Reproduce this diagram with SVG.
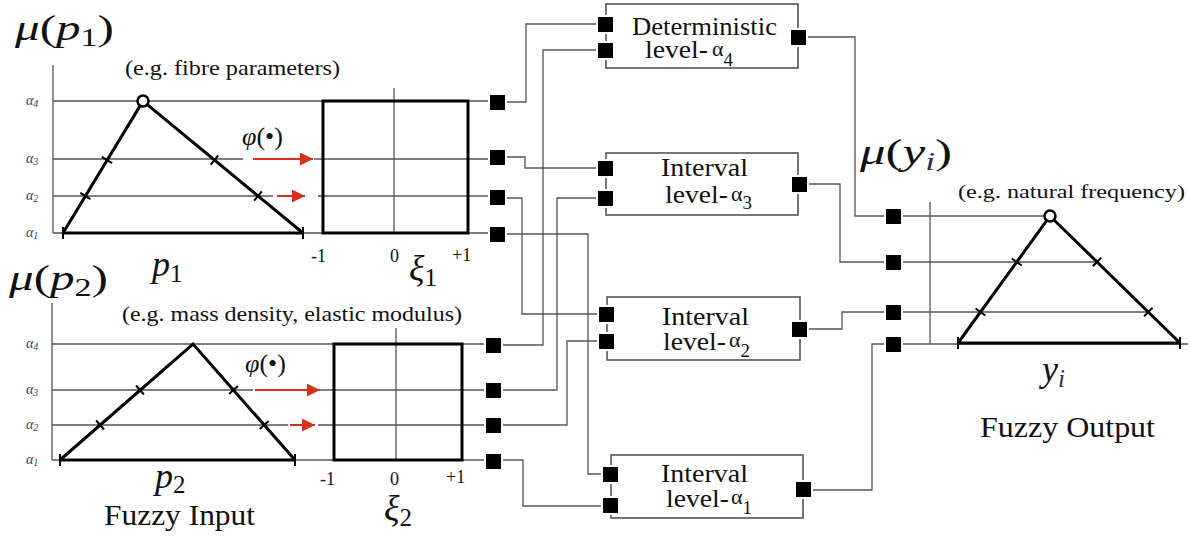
<svg xmlns="http://www.w3.org/2000/svg" width="1190" height="536" viewBox="0 0 1190 536">
<defs>
<marker id="ra" viewBox="0 0 10 10" refX="10" refY="5" markerUnits="userSpaceOnUse" markerWidth="13" markerHeight="13" orient="auto"><path d="M0,0 L10,5 L0,10 z" fill="#d3321e"/></marker>
</defs>
<style>
.g{stroke:#555;stroke-width:1.3;fill:none}
.k{stroke:#000;stroke-width:3;fill:none}
.tk{stroke:#000;stroke-width:2}
.r{stroke:#d3321e;stroke-width:2;marker-end:url(#ra)}
.sq{fill:#000;stroke:#fff;stroke-width:4;paint-order:stroke}
.box{fill:none;stroke:#555;stroke-width:1.6}
.c{fill:#fff;stroke:#000;stroke-width:2.5}
text{font-family:"Liberation Serif",serif;fill:#111}
.al{font-size:14px;fill:#3c3c5a;font-style:italic}
.big{font-size:36px}
.it{font-style:italic}
.eg{font-size:21px}
.ax{font-size:18px}
.ml{font-size:25px}
.gr{font-size:22px}
.fz{font-size:30px}
</style>

<g id="input-p1">
<line class="g" x1="53" y1="65" x2="53" y2="233"/>
<line class="g" x1="53" y1="101" x2="490" y2="101"/>
<line class="g" x1="53" y1="159" x2="243" y2="159"/>
<line class="g" x1="314" y1="159" x2="490" y2="159"/>
<line class="g" x1="53" y1="196" x2="273" y2="196"/>
<line class="g" x1="318" y1="196" x2="490" y2="196"/>
<line class="g" x1="53" y1="233" x2="490" y2="233"/>
<text class="al" x="26" y="105">α<tspan font-size="10" dy="2">4</tspan></text>
<text class="al" x="26" y="163">α<tspan font-size="10" dy="2">3</tspan></text>
<text class="al" x="26" y="200">α<tspan font-size="10" dy="2">2</tspan></text>
<text class="al" x="26" y="237">α<tspan font-size="10" dy="2">1</tspan></text>
<line class="k" x1="63" y1="233" x2="303" y2="233"/>
<line class="k" x1="63" y1="233" x2="139.9" y2="106.1"/>
<line class="k" x1="147.6" y1="104.8" x2="303" y2="233"/>
<circle class="c" cx="143" cy="101" r="5.5"/>
<line class="tk" x1="101.9" y1="156.9" x2="112.1" y2="163.1"/>
<line class="tk" x1="80.3" y1="192.9" x2="90.5" y2="199.1"/>
<line class="tk" x1="218.3" y1="155.4" x2="210.7" y2="164.6"/>
<line class="tk" x1="261.8" y1="191.4" x2="254.2" y2="200.6"/>
<line class="tk" x1="63" y1="227" x2="63" y2="239"/>
<line class="tk" x1="303" y1="227" x2="303" y2="239"/>
<line class="r" x1="253" y1="159" x2="313" y2="159"/>
<line class="r" x1="277" y1="196" x2="305" y2="196"/>
<line class="g" x1="394" y1="88" x2="394" y2="233"/>
<rect class="k" x="323" y="101" width="145" height="132"/>
<text class="big" x="15" y="40" textLength="99" lengthAdjust="spacingAndGlyphs"><tspan class="it">μ</tspan>(<tspan class="it">p</tspan><tspan font-size="25" dy="6">1</tspan><tspan dy="-6">)</tspan></text>
<text class="eg" x="125" y="75" textLength="215" lengthAdjust="spacingAndGlyphs">(e.g. fibre parameters)</text>
<text x="242" y="145" font-size="26"><tspan class="it">φ</tspan>(•)</text>
<text class="big it" x="152" y="276">p<tspan font-size="25" dy="6" font-style="normal">1</tspan></text>
<text class="ax" x="311" y="262">-1</text>
<text class="ax" x="390" y="262">0</text>
<text class="ax" x="452" y="261">+1</text>
<text class="big it" x="409" y="280">ξ<tspan font-size="25" dy="6" font-style="normal">1</tspan></text>
</g>

<g id="input-p2">
<line class="g" x1="52" y1="303" x2="52" y2="460"/>
<line class="g" x1="52" y1="344" x2="486" y2="344"/>
<line class="g" x1="52" y1="390" x2="253" y2="390"/>
<line class="g" x1="320" y1="390" x2="486" y2="390"/>
<line class="g" x1="52" y1="425" x2="288" y2="425"/>
<line class="g" x1="318" y1="425" x2="486" y2="425"/>
<line class="g" x1="52" y1="460" x2="486" y2="460"/>
<text class="al" x="26" y="348">α<tspan font-size="10" dy="2">4</tspan></text>
<text class="al" x="26" y="394">α<tspan font-size="10" dy="2">3</tspan></text>
<text class="al" x="26" y="429">α<tspan font-size="10" dy="2">2</tspan></text>
<text class="al" x="26" y="464">α<tspan font-size="10" dy="2">1</tspan></text>
<line class="k" x1="60" y1="460" x2="295" y2="460"/>
<polyline class="k" points="60,460 193,344 295,460"/>
<line class="tk" x1="136.1" y1="385.5" x2="143.9" y2="394.5"/>
<line class="tk" x1="96.2" y1="420.5" x2="104" y2="429.5"/>
<line class="tk" x1="238" y1="386" x2="229" y2="394"/>
<line class="tk" x1="268.7" y1="421" x2="259.7" y2="429"/>
<line class="tk" x1="60" y1="454" x2="60" y2="466"/>
<line class="tk" x1="295" y1="454" x2="295" y2="466"/>
<line class="r" x1="255" y1="390" x2="320" y2="390"/>
<line class="r" x1="290" y1="425" x2="315" y2="425"/>
<line class="g" x1="396" y1="328" x2="396" y2="460"/>
<rect class="k" x="334" y="344" width="128" height="116"/>
<text class="big" x="9" y="290" textLength="99" lengthAdjust="spacingAndGlyphs"><tspan class="it">μ</tspan>(<tspan class="it">p</tspan><tspan font-size="25" dy="6">2</tspan><tspan dy="-6">)</tspan></text>
<text class="eg" x="122" y="321" textLength="340" lengthAdjust="spacingAndGlyphs">(e.g. mass density, elastic modulus)</text>
<text x="245" y="372" font-size="26"><tspan class="it">φ</tspan>(•)</text>
<text class="big it" x="155" y="488">p<tspan font-size="25" dy="5" font-style="normal">2</tspan></text>
<text class="fz" x="104" y="525" textLength="151" lengthAdjust="spacingAndGlyphs">Fuzzy Input</text>
<text class="ax" x="320" y="485">-1</text>
<text class="ax" x="390" y="485">0</text>
<text class="ax" x="446" y="483">+1</text>
<text class="big it" x="384" y="520">ξ<tspan font-size="25" dy="6" font-style="normal">2</tspan></text>
</g>

<g id="connectors" class="g">
<polyline points="506,102 526,102 526,24 598,24"/>
<polyline points="502,345 543,345 543,50 598,50"/>
<polyline points="506,157 525,157 525,168 598,168"/>
<polyline points="502,390 557,390 557,198 598,198"/>
<polyline points="506,198 522,198 522,314 599,314"/>
<polyline points="502,425 567,425 567,341 599,341"/>
<polyline points="506,234 588,234 588,474 603,474"/>
<polyline points="502,460 523,460 523,506 603,506"/>
<polyline points="806,37 855,37 855,216 885,216"/>
<polyline points="807,184 840,184 840,262 885,262"/>
<polyline points="807,329 842,329 842,312 885,312"/>
<polyline points="811,490 872,490 872,344 885,344"/>
</g>

<g id="ports-in">
<rect class="sq" x="490" y="95" width="15" height="15"/>
<rect class="sq" x="490" y="150" width="15" height="15"/>
<rect class="sq" x="490" y="190" width="15" height="15"/>
<rect class="sq" x="490" y="227" width="15" height="15"/>
<rect class="sq" x="486" y="338" width="15" height="15"/>
<rect class="sq" x="486" y="383" width="15" height="15"/>
<rect class="sq" x="486" y="418" width="15" height="15"/>
<rect class="sq" x="486" y="454" width="15" height="15"/>
</g>

<g id="det-a4">
<rect class="box" x="606" y="4" width="192" height="64"/>
<rect class="sq" x="598" y="17" width="15" height="15"/>
<rect class="sq" x="598" y="43" width="15" height="15"/>
<rect class="sq" x="791" y="30" width="15" height="15"/>
<text class="ml" x="632" y="35" textLength="145" lengthAdjust="spacingAndGlyphs">Deterministic</text>
<text class="ml" x="645" y="58" textLength="63" lengthAdjust="spacingAndGlyphs">level-</text>
<text class="gr" x="712" y="56">α<tspan dy="10" font-size="19">4</tspan></text>
</g>

<g id="int-a3">
<rect class="box" x="606" y="153" width="192" height="62"/>
<rect class="sq" x="598" y="161" width="15" height="15"/>
<rect class="sq" x="598" y="191" width="15" height="15"/>
<rect class="sq" x="792" y="177" width="15" height="15"/>
<text class="ml" x="661" y="176" textLength="87" lengthAdjust="spacingAndGlyphs">Interval</text>
<text class="ml" x="665" y="203" textLength="63" lengthAdjust="spacingAndGlyphs">level-</text>
<text class="gr" x="731" y="201">α<tspan dy="8" font-size="19">3</tspan></text>
</g>

<g id="int-a2">
<rect class="box" x="607" y="297" width="193" height="63"/>
<rect class="sq" x="599" y="307" width="15" height="15"/>
<rect class="sq" x="599" y="334" width="15" height="15"/>
<rect class="sq" x="792" y="322" width="15" height="15"/>
<text class="ml" x="662" y="325" textLength="87" lengthAdjust="spacingAndGlyphs">Interval</text>
<text class="ml" x="663" y="350" textLength="63" lengthAdjust="spacingAndGlyphs">level-</text>
<text class="gr" x="729" y="347">α<tspan dy="10" font-size="19">2</tspan></text>
</g>

<g id="int-a1">
<rect class="box" x="611" y="455" width="192" height="63"/>
<rect class="sq" x="603" y="467" width="15" height="15"/>
<rect class="sq" x="603" y="498" width="15" height="15"/>
<rect class="sq" x="796" y="482" width="15" height="15"/>
<text class="ml" x="661" y="482" textLength="87" lengthAdjust="spacingAndGlyphs">Interval</text>
<text class="ml" x="666" y="507" textLength="63" lengthAdjust="spacingAndGlyphs">level-</text>
<text class="gr" x="731" y="504">α<tspan dy="10" font-size="19">1</tspan></text>
</g>

<g id="output-y">
<line class="g" x1="930" y1="202" x2="930" y2="344"/>
<line class="g" x1="902" y1="216" x2="1045" y2="216"/>
<line class="g" x1="902" y1="262" x2="1097" y2="262"/>
<line class="g" x1="902" y1="312" x2="1150" y2="312"/>
<line class="g" x1="902" y1="344" x2="1188" y2="344"/>
<rect class="sq" x="886" y="209" width="15" height="15"/>
<rect class="sq" x="886" y="255" width="15" height="15"/>
<rect class="sq" x="886" y="305" width="15" height="15"/>
<rect class="sq" x="886" y="337" width="15" height="15"/>
<line class="k" x1="958" y1="343" x2="1180" y2="343"/>
<line class="k" x1="958" y1="343" x2="1046.5" y2="220.9"/>
<line class="k" x1="1054.3" y1="220.2" x2="1180" y2="343"/>
<circle class="c" cx="1050" cy="216" r="5.5"/>
<line class="tk" x1="1011.8" y1="258.5" x2="1021.6" y2="265.5"/>
<line class="tk" x1="975.6" y1="308.5" x2="985.4" y2="315.5"/>
<line class="tk" x1="1101.2" y1="257.7" x2="1092.8" y2="266.3"/>
<line class="tk" x1="1152.5" y1="307.7" x2="1144.1" y2="316.3"/>
<line class="tk" x1="958" y1="337" x2="958" y2="349"/>
<line class="tk" x1="1180" y1="337" x2="1180" y2="349"/>
<text class="big" x="860" y="164" textLength="92" lengthAdjust="spacingAndGlyphs"><tspan class="it">μ</tspan>(<tspan class="it">y</tspan><tspan class="it" font-size="25" dy="6" fill="#2a2a60">i</tspan><tspan dy="-6">)</tspan></text>
<text x="958" y="198" font-size="19" textLength="227" lengthAdjust="spacingAndGlyphs">(e.g. natural frequency)</text>
<text class="big it" x="1042" y="381">y<tspan font-size="25" dy="6" fill="#2a2a60">i</tspan></text>
<text class="fz" x="980" y="437" textLength="175" lengthAdjust="spacingAndGlyphs">Fuzzy Output</text>
</g>
</svg>
